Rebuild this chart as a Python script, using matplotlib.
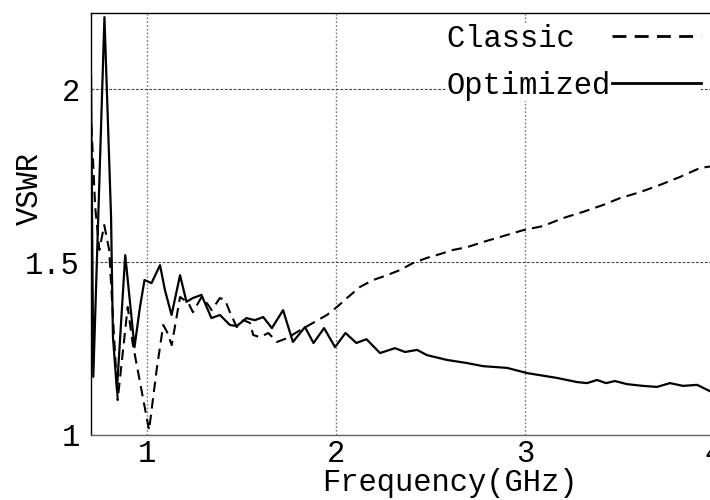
import matplotlib
matplotlib.use("Agg")
import matplotlib.pyplot as plt

# Frequency (GHz) and VSWR samples for the two antenna designs
freq_classic = [0.706, 0.726, 0.748, 0.774, 0.800, 0.845, 0.898, 0.924, 1.011, 1.051,
                1.086, 1.106, 1.131, 1.175, 1.219, 1.243, 1.289, 1.324, 1.342, 1.386,
                1.413, 1.439, 1.475, 1.510, 1.545, 1.562, 1.598, 1.642, 1.688, 1.741,
                1.810, 1.878, 1.952, 2.005, 2.058, 2.127, 2.196, 2.270, 2.339, 2.407,
                2.481, 2.550, 2.619, 2.693, 2.778, 2.884, 2.989, 3.095, 3.201, 3.307,
                3.413, 3.503, 3.608, 3.714, 3.820, 3.926, 3.989]
vswr_classic = [1.896, 1.659, 1.535, 1.607, 1.535, 1.101, 1.370, 1.266, 1.014, 1.188,
                1.318, 1.298, 1.260, 1.399, 1.382, 1.355, 1.399, 1.376, 1.361, 1.396,
                1.390, 1.355, 1.312, 1.332, 1.324, 1.289, 1.283, 1.295, 1.269, 1.280,
                1.303, 1.324, 1.347, 1.370, 1.396, 1.428, 1.448, 1.462, 1.477, 1.497,
                1.512, 1.523, 1.535, 1.543, 1.558, 1.575, 1.592, 1.604, 1.627, 1.645,
                1.665, 1.685, 1.702, 1.723, 1.746, 1.772, 1.777]

freq_opt = [0.704, 0.716, 0.775, 0.810, 0.820, 0.841, 0.885, 0.934, 0.963, 0.987,
            1.024, 1.069, 1.095, 1.130, 1.175, 1.209, 1.243, 1.288, 1.341, 1.386,
            1.439, 1.476, 1.526, 1.571, 1.615, 1.661, 1.720, 1.772, 1.836, 1.881,
            1.937, 1.995, 2.050, 2.108, 2.161, 2.233, 2.312, 2.365, 2.429, 2.481,
            2.587, 2.693, 2.778, 2.905, 3.011, 3.169, 3.275, 3.328, 3.381, 3.429,
            3.476, 3.540, 3.624, 3.698, 3.767, 3.836, 3.910, 3.989]
vswr_opt = [2.035, 1.168, 2.208, 1.630, 1.283, 1.130, 1.520, 1.254, 1.370, 1.448,
            1.439, 1.491, 1.419, 1.347, 1.462, 1.385, 1.396, 1.405, 1.338, 1.347,
            1.318, 1.315, 1.338, 1.332, 1.341, 1.309, 1.361, 1.269, 1.312, 1.266,
            1.309, 1.254, 1.295, 1.266, 1.277, 1.237, 1.251, 1.240, 1.246, 1.231,
            1.217, 1.208, 1.199, 1.194, 1.179, 1.165, 1.153, 1.150, 1.159, 1.150,
            1.156, 1.147, 1.142, 1.139, 1.150, 1.142, 1.145, 1.124]

# monospace labels padded to equal width so both rows start in the same column
series_labels = ["Classic  ", "Optimized"]
x_ticks = [1, 2, 3, 4]
y_ticks = [1, 1.5, 2]
y_tick_labels = ["1", "1.5", "2"]

FONT = "Liberation Mono"
FS = 22

fig = plt.figure(figsize=(7.1, 5.0), dpi=100)
ax = fig.add_axes([0.1282, 0.13, 0.8775, 0.844])

ax.plot(freq_classic, vswr_classic, color="black", lw=1.5,
        linestyle=(0, (5, 3)), label=series_labels[0])
ax.plot(freq_opt, vswr_opt, color="black", lw=1.6,
        linestyle="-", label=series_labels[1])

ax.set_xlim(0.704, 4.0)
ax.set_ylim(1.0, 2.22)

ax.set_xticks(x_ticks)
ax.set_xticklabels([str(t) for t in x_ticks])
ax.set_yticks(y_ticks)
ax.set_yticklabels(y_tick_labels)
ax.tick_params(length=0, labelsize=FS)
ax.tick_params(axis="x", pad=3)
ax.tick_params(axis="y", pad=8)
for lbl in ax.get_xticklabels() + ax.get_yticklabels():
    lbl.set_fontfamily(FONT)

ax.xaxis.grid(True, color="#777777", linestyle=(0, (1.2, 1.5)), lw=1.0)
ax.yaxis.grid(True, color="#444444", linestyle=(0, (2.5, 1.5)), lw=0.8)
ax.set_axisbelow(True)

ax.spines["top"].set_color("black")
ax.spines["left"].set_color("black")
ax.spines["bottom"].set_color("#666666")
ax.spines["right"].set_visible(False)
for s in ax.spines.values():
    s.set_linewidth(1.0)

ax.set_xlabel("Frequency(GHz)", fontsize=FS, family=FONT)
ax.xaxis.set_label_coords(0.576, -0.078)
ax.set_ylabel("VSWR", fontsize=FS, family=FONT)
ax.yaxis.set_label_coords(-0.098, 0.585)
ax.yaxis.label.set_va("center")

leg = ax.legend(loc="upper right", bbox_to_anchor=(701 / 710, 476 / 500),
                bbox_transform=fig.transFigure, frameon=True, markerfirst=False,
                prop={"family": FONT, "size": FS}, handlelength=2.9,
                handletextpad=0.05, labelspacing=0.55, borderpad=0.0,
                borderaxespad=0.0, fancybox=False)
leg.get_frame().set_facecolor("white")
leg.get_frame().set_edgecolor("none")
leg.get_frame().set_alpha(1.0)
for h in leg.get_lines():
    h.set_linewidth(2.0)

fig.savefig("out.png", dpi=100)
